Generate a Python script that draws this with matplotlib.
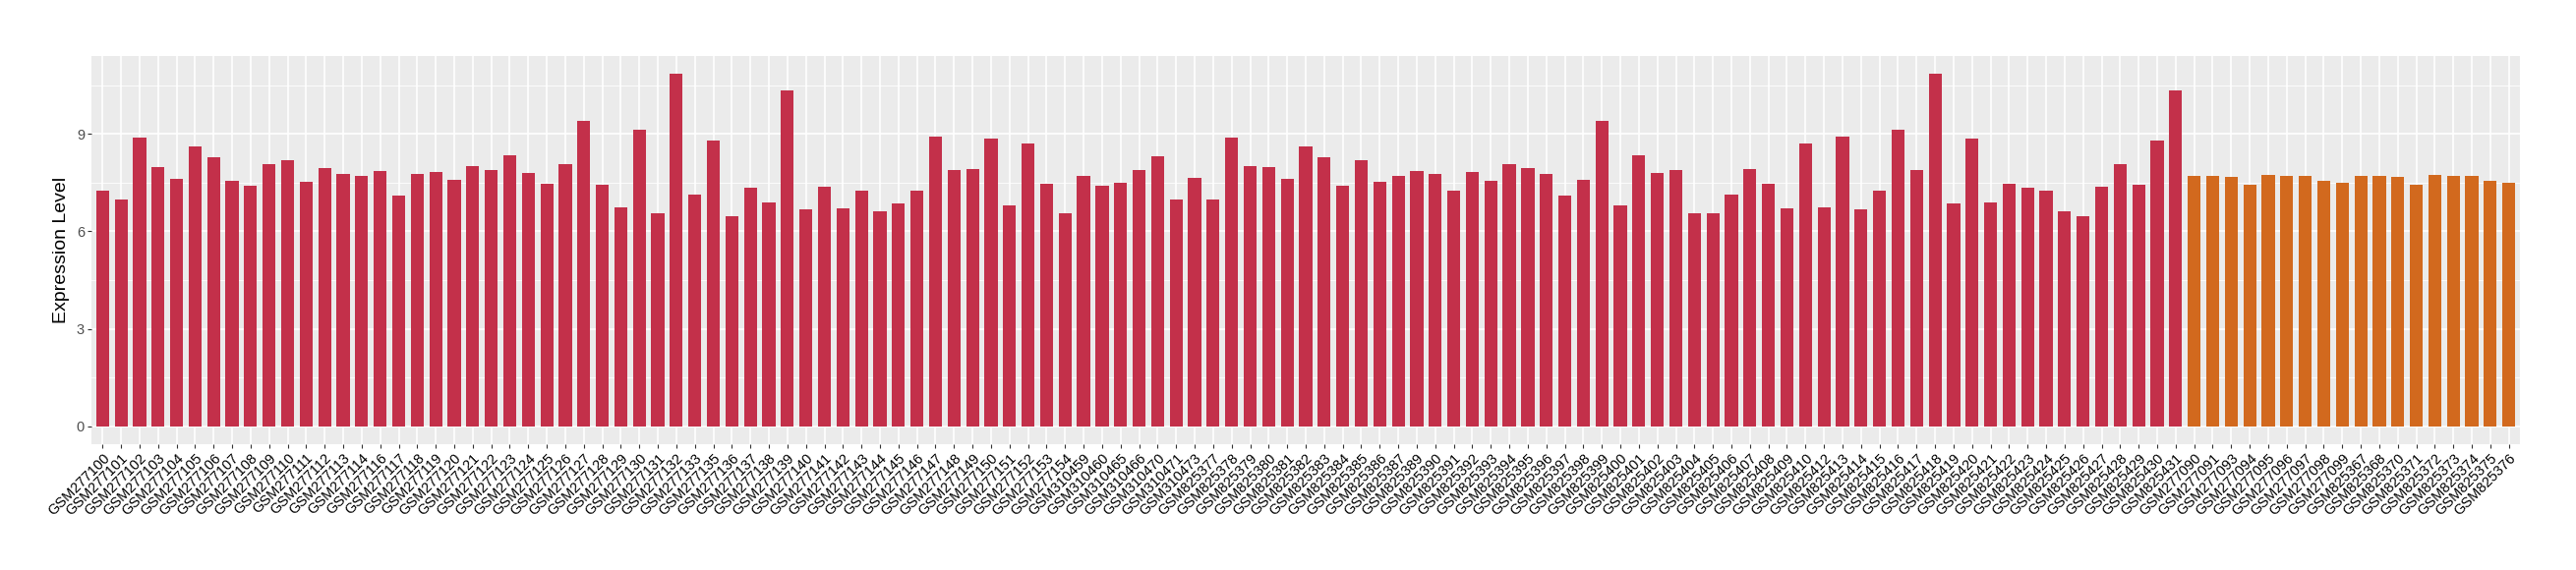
import matplotlib
matplotlib.use("Agg")
import matplotlib.pyplot as plt
from matplotlib.ticker import MultipleLocator

plt.rcParams['font.family'] = ['Liberation Sans', 'DejaVu Sans']

# sample ids, first group (red)
group1_ids = (
    ["GSM2771%02d" % i for i in [0, 1, 2, 3, 4, 5, 6, 7, 8, 9, 10, 11, 12, 13, 14,
                                   16, 17, 18, 19, 20, 21, 22, 23, 24, 25, 26, 27, 28,
                                   29, 30, 31, 32, 33, 35, 36, 37, 38, 39, 40, 41, 42,
                                   43, 44, 45, 46, 47, 48, 49, 50, 51, 52, 53, 54]]
    + ["GSM310459", "GSM310460", "GSM310465", "GSM310466", "GSM310470",
       "GSM310471", "GSM310473"]
    + ["GSM825%d" % i for i in [377, 378, 379, 380, 381, 382, 383, 384, 385, 386, 387,
                                 389, 390, 391, 392, 393, 394, 395, 396, 397, 398, 399,
                                 400, 401, 402, 403, 404, 405, 406, 407, 408, 409, 410,
                                 412, 413, 414, 415, 416, 417, 418, 419, 420, 421, 422,
                                 423, 424, 425, 426, 427, 428, 429, 430, 431]]
)
group1_vals = [
    7.25, 6.98, 8.89, 7.98, 7.62, 8.62, 8.28, 7.56, 7.40, 8.07,
    8.19, 7.53, 7.95, 7.77, 7.71, 7.86, 7.10, 7.77, 7.83, 7.59,
    8.01, 7.89, 8.34, 7.80, 7.46, 8.07, 9.40, 7.43, 6.74, 9.13,
    6.56, 10.86, 7.13, 8.80, 6.46, 7.34, 6.89, 10.34, 6.68, 7.37,
    6.71, 7.25, 6.62, 6.86, 7.25, 8.92, 7.89, 7.92, 8.86, 6.80,
    8.71, 7.46, 6.56, 7.71, 7.40, 7.49, 7.89, 8.31, 6.98, 7.65,
    6.98, 8.89, 8.01, 7.98, 7.62, 8.62, 8.28, 7.40, 8.19, 7.53,
    7.71, 7.86, 7.77, 7.25, 7.83, 7.56, 8.07, 7.95, 7.77, 7.10,
    7.59, 9.40, 6.80, 8.34, 7.80, 7.89, 6.56, 6.56, 7.13, 7.92,
    7.46, 6.71, 8.71, 6.74, 8.92, 6.68, 7.25, 9.13, 7.89, 10.86,
    6.86, 8.86, 6.89, 7.46, 7.34, 7.25, 6.62, 6.46, 7.37, 8.07,
    7.43, 8.80, 10.34,
]

# second group (orange)
group2_ids = (
    ["GSM2770%d" % i for i in [90, 91, 93, 94, 95, 96, 97, 98, 99]]
    + ["GSM825%d" % i for i in [367, 368, 370, 371, 372, 373, 374, 375, 376]]
)
group2_vals = [
    7.71, 7.71, 7.68, 7.43, 7.74, 7.71, 7.71, 7.56, 7.49,
    7.71, 7.71, 7.68, 7.43, 7.74, 7.71, 7.71, 7.56, 7.49,
]

labels = group1_ids + group2_ids
values = group1_vals + group2_vals
colors = ['#C3304A'] * len(group1_vals) + ['#D2691E'] * len(group2_vals)

fig = plt.figure(figsize=(26.2, 5.8), dpi=100)
ax = fig.add_axes([93 / 2620, 1 - 452 / 580, (2563 - 93) / 2620, (452 - 57) / 580])

x = list(range(len(values)))
ax.bar(x, values, width=0.7, color=colors, zorder=3)

ax.set_facecolor('#EBEBEB')
for s in ax.spines.values():
    s.set_visible(False)

ax.set_xlim(-0.6, len(values) - 0.4)
ax.set_ylim(-0.55, 11.4)
ax.yaxis.set_major_locator(MultipleLocator(3))
ax.yaxis.set_minor_locator(MultipleLocator(1.5))
ax.grid(True, which='major', color='white', linewidth=1.2, zorder=0)
ax.grid(True, which='minor', axis='y', color='white', linewidth=0.6, zorder=0)

ax.set_xticks(x)
ax.set_xticklabels(labels, rotation=45, ha='right', rotation_mode='anchor',
                   fontsize=10.5, color='black')
ax.tick_params(axis='x', length=3, width=0.8, color='#333333', pad=2)
ax.tick_params(axis='y', which='major', length=3, width=0.8, color='#333333',
               labelsize=10.5, labelcolor='#4D4D4D', pad=2)
ax.tick_params(axis='y', which='minor', length=0)

ax.set_ylabel('Expression Level', fontsize=14, labelpad=5)

fig.savefig('out.png', dpi=100)
